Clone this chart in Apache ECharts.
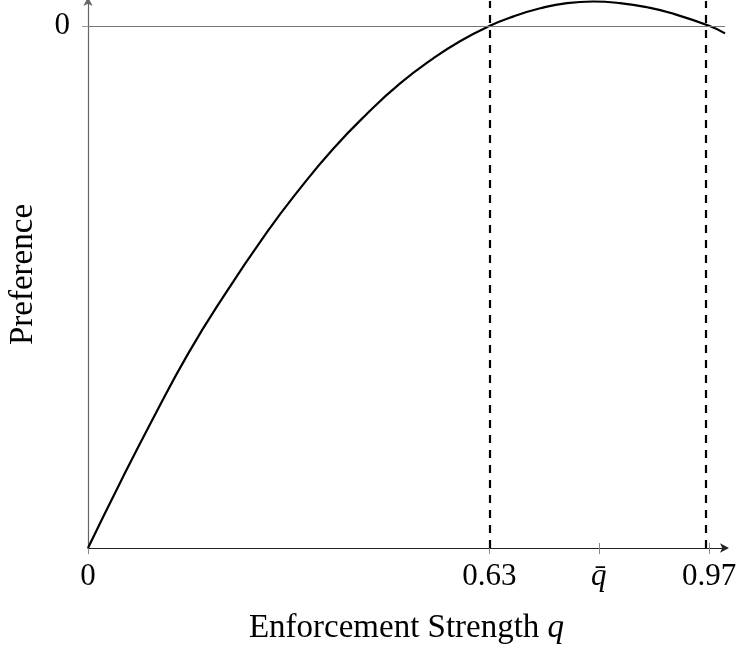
<!DOCTYPE html>
<html>
<head>
<meta charset="utf-8">
<script src="https://cdn.jsdelivr.net/npm/echarts@6/dist/echarts.min.js"></script>
<style>html,body{margin:0;padding:0;background:#fff}#c{width:739px;height:650px}</style>
</head>
<body>
<div id="c"></div>
<script>
// Curve (q, preference), zero line = 0, origin = -1
const qValues = [0, 0.052, 0.105, 0.157, 0.209, 0.281, 0.333, 0.385, 0.438, 0.490, 0.542, 0.584, 0.630, 0.667, 0.710, 0.752, 0.793, 0.835, 0.878, 0.918, 0.976, 1.0];
const prefValues = [-1, -0.871, -0.745, -0.628, -0.525, -0.395, -0.311, -0.235, -0.168, -0.110, -0.062, -0.029, 0, 0.018, 0.034, 0.044, 0.047, 0.044, 0.036, 0.024, 0, -0.014];
const xTickValues = [0, 0.63, 0.802, 0.975];
const xTickLabels = ['0', '0.63', '{i|q\u0304}', '0.97'];
const thresholdValues = [0.63, 0.975];
const yTickValues = [0];
const yTickLabels = ['0'];

const FONT = '"Liberation Serif", "DejaVu Serif", serif';
const FS = 31;
const NFS = 33;
const curveData = qValues.map((q, i) => [q, prefValues[i]]);
function lookup(vals, labels, v) {
  const i = vals.findIndex(t => Math.abs(t - v) < 1e-6);
  return i >= 0 ? labels[i] : '';
}

const chart = echarts.init(document.getElementById('c'), null, {renderer: 'canvas'});
chart.setOption({
  animation: false,
  backgroundColor: '#fff',
  grid: {left: 88, right: 14, top: 1, bottom: 102, containLabel: false, outerBoundsMode: 'none'},
  xAxis: [{
    type: 'value', min: 0, max: 1, position: 'bottom',
    axisLine: {show: true, onZero: false, symbol: ['none', 'arrow'], symbolSize: [7, 9], symbolOffset: [0, 4],
      lineStyle: {color: '#222', width: 1.2}},
    axisTick: {show: true, customValues: xTickValues, length: 6, lineStyle: {color: '#888', width: 1}},
    axisLabel: {show: true, customValues: xTickValues, margin: 13, color: '#000', fontFamily: FONT, fontSize: FS,
      formatter: v => lookup(xTickValues, xTickLabels, v),
      rich: {i: {fontFamily: FONT, fontSize: FS, fontStyle: 'italic', color: '#000'}}},
    splitLine: {show: false},
    name: '{n|Enforcement Strength }{i|q}', nameLocation: 'middle', nameGap: 64,
    nameTextStyle: {rich: {
      n: {fontFamily: FONT, fontSize: NFS, color: '#000'},
      i: {fontFamily: FONT, fontSize: NFS, fontStyle: 'italic', color: '#000'}}}
  }, {
    type: 'value', min: 0, max: 1, position: 'bottom', offset: 0,
    axisLine: {show: false, onZero: false},
    axisTick: {show: true, inside: true, customValues: xTickValues.slice(1), length: 5, lineStyle: {color: '#888', width: 1}},
    axisLabel: {show: false},
    splitLine: {show: false}
  }],
  yAxis: {
    type: 'value', min: -1, max: 0.048,
    axisLine: {show: true, onZero: false, symbol: ['none', 'arrow'], symbolSize: [7, 9], symbolOffset: [0, 4],
      lineStyle: {color: '#666', width: 1.2}},
    axisTick: {show: true, customValues: yTickValues, length: 6, lineStyle: {color: '#999', width: 1}},
    axisLabel: {show: true, customValues: yTickValues, margin: 18, color: '#000', fontFamily: FONT, fontSize: FS,
      formatter: v => lookup(yTickValues, yTickLabels, v)},
    splitLine: {show: false},
    name: 'Preference', nameLocation: 'middle', nameGap: 48,
    nameTextStyle: {fontFamily: FONT, fontSize: NFS, color: '#000'}
  },
  series: [{
    type: 'line',
    data: curveData,
    smooth: true,
    showSymbol: false,
    clip: false,
    lineStyle: {color: '#000', width: 2.2},
    z: 3,
    markLine: {
      silent: true, symbol: ['none', 'none'], label: {show: false},
      data: [
        {yAxis: 0, lineStyle: {color: '#777', width: 1.2, type: 'solid'}},
        ...thresholdValues.map(v => ({xAxis: v, lineStyle: {color: '#000', width: 2.2, type: [8, 7]}}))
      ]
    }
  }]
});
</script>
</body>
</html>
